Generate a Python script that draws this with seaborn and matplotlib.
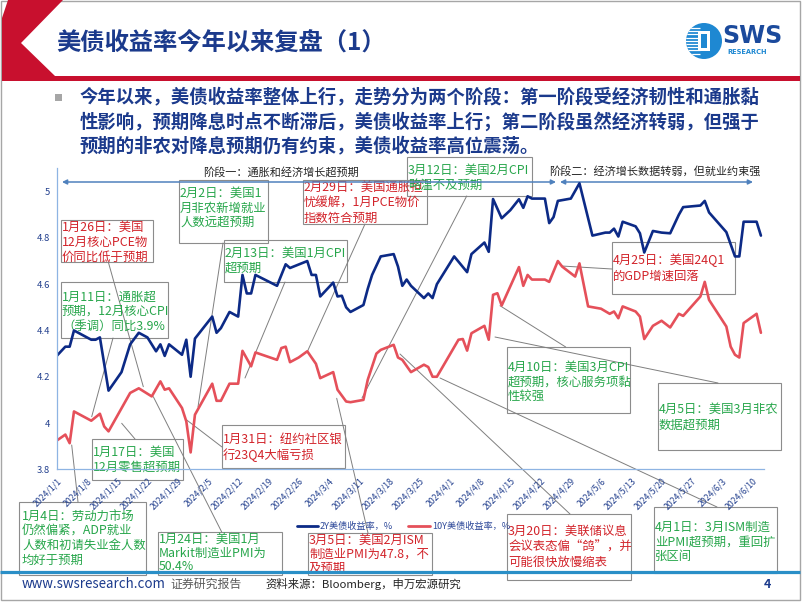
import numpy as np
import pandas as pd
import matplotlib
matplotlib.use("Agg")
import matplotlib.pyplot as plt
import seaborn as sns
from matplotlib.patches import Rectangle, Polygon, Circle

# ---------------- data ----------------
dates_2y = ["2024-01-01", "2024-01-03", "2024-01-04", "2024-01-05", "2024-01-08", "2024-01-09",
            "2024-01-10", "2024-01-11", "2024-01-13", "2024-01-16", "2024-01-18", "2024-01-20",
            "2024-01-22", "2024-01-24", "2024-01-25", "2024-01-26", "2024-01-27", "2024-01-30",
            "2024-01-31", "2024-02-01", "2024-02-02", "2024-02-06", "2024-02-07", "2024-02-08",
            "2024-02-10", "2024-02-12", "2024-02-13", "2024-02-14", "2024-02-15", "2024-02-16",
            "2024-02-21", "2024-02-23", "2024-02-24", "2024-02-28", "2024-02-29", "2024-03-01",
            "2024-03-02", "2024-03-05", "2024-03-06", "2024-03-07", "2024-03-08", "2024-03-09",
            "2024-03-12", "2024-03-13", "2024-03-14", "2024-03-16", "2024-03-19", "2024-03-20",
            "2024-03-21", "2024-03-22", "2024-03-23", "2024-03-26", "2024-03-27", "2024-03-28",
            "2024-03-29", "2024-04-02", "2024-04-05", "2024-04-06", "2024-04-09", "2024-04-10",
            "2024-04-11", "2024-04-13", "2024-04-15", "2024-04-17", "2024-04-18", "2024-04-19",
            "2024-04-20", "2024-04-23", "2024-04-24", "2024-04-25", "2024-04-26", "2024-04-29",
            "2024-05-01", "2024-05-04", "2024-05-07", "2024-05-08", "2024-05-09", "2024-05-10",
            "2024-05-11", "2024-05-14", "2024-05-15", "2024-05-16", "2024-05-18", "2024-05-20",
            "2024-05-22", "2024-05-24", "2024-05-25", "2024-05-29", "2024-05-30", "2024-05-31",
            "2024-06-04", "2024-06-06", "2024-06-07", "2024-06-08", "2024-06-11", "2024-06-12"]
yield_2y = [4.29, 4.33, 4.33, 4.40, 4.37, 4.36,
            4.36, 4.37, 4.14, 4.22, 4.34, 4.39,
            4.37, 4.31, 4.34, 4.29, 4.34, 4.295,
            4.36, 4.20, 4.365, 4.46, 4.39, 4.41,
            4.48, 4.46, 4.64, 4.56, 4.56, 4.64,
            4.593, 4.686, 4.67, 4.70, 4.64, 4.64,
            4.547, 4.607, 4.547, 4.55, 4.50, 4.48,
            4.51, 4.58, 4.64, 4.72, 4.73, 4.676,
            4.593, 4.62, 4.593, 4.54, 4.56, 4.54,
            4.60, 4.72, 4.652, 4.73, 4.78, 4.74,
            4.968, 4.885, 4.92, 4.967, 4.93, 4.98,
            4.97, 4.97, 4.864, 4.89, 4.96, 4.97,
            5.036, 4.81, 4.823, 4.823, 4.84, 4.806,
            4.87, 4.85, 4.82, 4.737, 4.83, 4.823,
            4.82, 4.90, 4.933, 4.94, 4.96, 4.91,
            4.825, 4.72, 4.72, 4.87, 4.87, 4.81]

dates_10y = ["2024-01-01", "2024-01-03", "2024-01-04", "2024-01-05", "2024-01-09", "2024-01-11",
             "2024-01-12", "2024-01-13", "2024-01-18", "2024-01-20", "2024-01-23", "2024-01-25",
             "2024-01-26", "2024-01-27", "2024-01-30", "2024-01-31", "2024-02-01", "2024-02-02",
             "2024-02-06", "2024-02-07", "2024-02-08", "2024-02-10", "2024-02-12", "2024-02-13",
             "2024-02-15", "2024-02-16", "2024-02-21", "2024-02-22", "2024-02-23", "2024-02-24",
             "2024-02-26", "2024-02-28", "2024-03-01", "2024-03-02", "2024-03-05", "2024-03-06",
             "2024-03-08", "2024-03-09", "2024-03-12", "2024-03-13", "2024-03-15", "2024-03-16",
             "2024-03-19", "2024-03-20", "2024-03-21", "2024-03-23", "2024-03-26", "2024-03-27",
             "2024-03-28", "2024-03-29", "2024-04-03", "2024-04-04", "2024-04-05", "2024-04-06",
             "2024-04-09", "2024-04-10", "2024-04-11", "2024-04-12", "2024-04-13", "2024-04-17",
             "2024-04-18", "2024-04-19", "2024-04-20", "2024-04-23", "2024-04-24", "2024-04-26",
             "2024-04-27", "2024-04-30", "2024-05-01", "2024-05-02", "2024-05-03", "2024-05-06",
             "2024-05-08", "2024-05-09", "2024-05-10", "2024-05-11", "2024-05-14", "2024-05-15",
             "2024-05-16", "2024-05-18", "2024-05-20", "2024-05-22", "2024-05-24", "2024-05-25",
             "2024-05-29", "2024-05-30", "2024-05-31", "2024-06-04", "2024-06-05", "2024-06-06",
             "2024-06-07", "2024-06-08", "2024-06-11", "2024-06-12"]
yield_10y = [3.924, 3.95, 3.913, 4.05, 4.01, 4.04,
             3.985, 3.964, 4.13, 4.15, 4.115, 4.18,
             4.144, 4.15, 4.065, 4.007, 3.873, 4.036,
             4.17, 4.096, 4.096, 4.17, 4.17, 4.312,
             4.245, 4.305, 4.273, 4.324, 4.33, 4.263,
             4.283, 4.31, 4.256, 4.194, 4.22, 4.144,
             4.093, 4.09, 4.10, 4.187, 4.30, 4.316,
             4.338, 4.283, 4.273, 4.22, 4.252, 4.242,
             4.20, 4.20, 4.36, 4.363, 4.313, 4.388,
             4.42, 4.36, 4.554, 4.561, 4.508, 4.674,
             4.593, 4.64, 4.62, 4.62, 4.61, 4.70,
             4.676, 4.633, 4.69, 4.597, 4.504, 4.494,
             4.472, 4.482, 4.453, 4.504, 4.482, 4.46,
             4.363, 4.42, 4.442, 4.413, 4.472, 4.463,
             4.547, 4.61, 4.532, 4.417, 4.33, 4.295,
             4.283, 4.432, 4.472, 4.39]

series_names = ["2Y美债收益率，%", "10Y美债收益率，%"]
tick_labels = ["2024/1/1", "2024/1/8", "2024/1/15", "2024/1/22", "2024/1/29", "2024/2/5",
               "2024/2/12", "2024/2/19", "2024/2/26", "2024/3/4", "2024/3/11", "2024/3/18",
               "2024/3/25", "2024/4/1", "2024/4/8", "2024/4/15", "2024/4/22", "2024/4/29",
               "2024/5/6", "2024/5/13", "2024/5/20", "2024/5/27", "2024/6/3", "2024/6/10"]
y_ticks = [3.8, 4.0, 4.2, 4.4, 4.6, 4.8, 5.0]
y_tick_labels = ["3.8", "4", "4.2", "4.4", "4.6", "4.8", "5"]

title_text = "美债收益率今年以来复盘（1）"
bullet_lines = ["今年以来，美债收益率整体上行，走势分为两个阶段：第一阶段受经济韧性和通胀黏",
                "性影响，预期降息时点不断滞后，美债收益率上行；第二阶段虽然经济转弱，但强于",
                "预期的非农对降息预期仍有约束，美债收益率高位震荡。"]
phase_labels = ["阶段一：通胀和经济增长超预期", "阶段二：经济增长数据转弱，但就业约束强"]
note_texts = [
    ("1月26日：美国\n12月核心PCE物\n价同比低于预期", "red"),
    ("1月11日：通胀超\n预期，12月核心CPI\n（季调）同比3.9%", "green"),
    ("2月2日：美国1\n月非农新增就业\n人数远超预期", "green"),
    ("2月29日：美国通胀担\n忧缓解，1月PCE物价\n指数符合预期", "red"),
    ("3月12日：美国2月CPI\n略温不及预期", "green"),
    ("2月13日：美国1月CPI\n超预期", "green"),
    ("1月31日：纽约社区银\n行23Q4大幅亏损", "red"),
    ("1月17日：美国\n12月零售超预期", "green"),
    ("1月4日：劳动力市场\n仍然偏紧，ADP就业\n人数和初请失业金人数\n均好于预期", "green"),
    ("1月24日：美国1月\nMarkit制造业PMI为\n50.4%", "green"),
    ("3月5日：美国2月ISM\n制造业PMI为47.8，不\n及预期", "red"),
    ("3月20日：美联储议息\n会议表态偏“鸽”，并\n可能很快放慢缩表", "red"),
    ("4月1日：3月ISM制造\n业PMI超预期，重回扩\n张区间", "green"),
    ("4月10日：美国3月CPI\n超预期，核心服务项黏\n性较强", "green"),
    ("4月5日：美国3月非农\n数据超预期", "green"),
    ("4月25日：美国24Q1\n的GDP增速回落", "red"),
]
footer_site = "www.swsresearch.com"
footer_kind = "证券研究报告"
footer_source = "资料来源：Bloomberg，申万宏源研究"
page_no = "4"

# ---------------- layout (pixels, origin top-left) ----------------
W, H = 802, 602
note_layout = [  # box (l, t, r, b), text x, first line y, line step, leader (x0,y0,x1,y1)
    ((61, 220, 153, 262), 62, 227, 15, (108.3, 262, 143.3, 386.7)),
    ((61, 282, 168, 338), 62, 297, 14.5, (113, 338, 91.7, 416.7)),
    ((179, 180, 268, 243), 180, 193.5, 14.5, (223, 243, 198, 407)),
    ((303, 180, 427, 224), 304, 187, 15.5, (365, 224, 307.3, 351.7)),
    ((407, 157, 532, 196), 408, 170.5, 14.5, (466.7, 196, 362, 398)),
    ((224, 240, 347, 282), 225, 253.5, 15, (285, 282, 245, 378)),
    ((222, 425, 345, 468), 223, 439.5, 15.5, (222, 447, 186.7, 420)),
    ((92, 439, 183, 480), 93, 452, 15, (135, 439, 121.7, 423.3)),
    ((19, 502, 146, 575), 22, 516.5, 14.5, (78, 502, 71.7, 445)),
    ((158, 532, 282, 575), 159, 539, 14, (221.7, 532, 153.3, 396.7)),
    ((308, 533, 432, 575), 309, 540, 14.2, (368, 533, 336.7, 398.3)),
    ((507, 514, 631, 580), 508, 531.7, 15.5, (570, 514, 400, 354)),
    ((654, 507, 777, 573), 655, 527.3, 14.4, (717, 507, 440, 378)),
    ((507, 347, 630, 413), 507.5, 367.3, 14.4, (565.7, 347, 500, 305.7)),
    ((658, 383, 781, 450), 658.5, 409, 16, (718, 383, 495, 337)),
    ((612, 242, 735, 294), 613, 260, 16, (612, 269, 561.7, 266)),
]
colors = {"red": "#D2232A", "green": "#27A64B"}
navy_text = "#1B3A8C"

sns.set_theme(style="white")
plt.rcParams["font.family"] = ["Noto Sans CJK SC", "DejaVu Sans"]
plt.rcParams["axes.unicode_minus"] = False

fig = plt.figure(figsize=(W / 100, H / 100), dpi=100)
fig.patch.set_facecolor("white")

ov = fig.add_axes([0, 0, 1, 1], zorder=0)
ov.set_xlim(0, W)
ov.set_ylim(H, 0)
ov.axis("off")

# chart axes
ax_l, ax_r, ax_t, ax_b = 56.7, 763.5, 168.5, 469.3
ax = fig.add_axes([ax_l / W, (H - ax_b) / H, (ax_r - ax_l) / W, (ax_b - ax_t) / H], zorder=2)
ax.patch.set_alpha(0)

df = pd.concat([
    pd.DataFrame({"date": pd.to_datetime(dates_2y), "value": yield_2y, "series": series_names[0]}),
    pd.DataFrame({"date": pd.to_datetime(dates_10y), "value": yield_10y, "series": series_names[1]}),
])
line_colors = {series_names[0]: "#0C2A86", series_names[1]: "#E5505A"}
sns.lineplot(data=df, x="date", y="value", hue="series", palette=line_colors,
             estimator=None, linewidth=1.9, legend=False, ax=ax)

start = pd.Timestamp("2024-01-01")
ax.set_xlim(start, start + pd.Timedelta(days=163.6))
ax.set_ylim(3.8, 5.1)
ax.set_yticks(y_ticks)
ax.set_yticklabels(y_tick_labels, fontsize=6.8, color="#23408E")
tick_pos = pd.to_datetime(tick_labels, format="%Y/%m/%d")
ax.set_xticks(tick_pos)
ax.set_xticklabels(tick_labels, rotation=45, ha="right", rotation_mode="anchor",
                   fontsize=6.3, color="#23408E")
ax.set_xlabel("")
ax.set_ylabel("")
for s in ["top", "right"]:
    ax.spines[s].set_visible(False)
for s in ["left", "bottom"]:
    ax.spines[s].set_color("#8EB4E3")
    ax.spines[s].set_linewidth(0.9)
ax.tick_params(axis="both", direction="out", length=3, width=0.8, color="#8EB4E3", pad=2)
ax.grid(False)

# ---------------- slide decorations ----------------
ov.add_patch(Rectangle((1, 1), 799, 599, fill=False, edgecolor="#A6A6A6", lw=1.0))
ov.add_patch(Polygon([(2, 18), (8, 0), (63, 0), (21, 43), (55, 76), (800, 76), (800, 81), (2, 81)],
                     closed=True, facecolor="#C8102E", edgecolor="none"))
ov.text(56, 43, title_text, fontsize=17.5, fontweight="bold", color=navy_text, va="center", ha="left")

# logo
logo = Circle((704, 41), 18, facecolor="#1E88D2", edgecolor="none")
ov.add_patch(logo)
for yy in np.arange(28, 56, 3.2):
    ln, = ov.plot([684, 700], [yy, yy], color="white", lw=0.9, solid_capstyle="butt")
    ln.set_clip_path(logo)
ov.add_patch(Rectangle((698, 31), 12, 20, facecolor="white", edgecolor="none"))
ov.add_patch(Rectangle((701, 34), 6, 14, facecolor="#1E88D2", edgecolor="none"))
ov.text(722, 36, "SWS", fontsize=17, fontweight="bold", color="#1B4A9C", va="center", ha="left",
        family=["DejaVu Sans"])
ov.text(727, 51.5, "RESEARCH", fontsize=4.8, fontweight="bold", color="#1E88D2", va="center", ha="left",
        family=["DejaVu Sans"])

# bullet
ov.add_patch(Rectangle((54.5, 93.5), 7, 7, facecolor="#A6A6A6", edgecolor="none"))
for i, line in enumerate(bullet_lines):
    ov.text(80, 97 + i * 24.5, line, fontsize=13.2, fontweight="bold", color=navy_text,
            va="center", ha="left")

# annotation boxes and leaders
for (txt, ckey), (box, tx, y0, step, lead) in zip(note_texts, note_layout):
    l, t, r, b = box
    ov.add_patch(Rectangle((l, t), r - l, b - t, fill=False, edgecolor="#8C8C8C", lw=0.8))
    for i, line in enumerate(txt.split("\n")):
        ov.text(tx, y0 + i * step, line, fontsize=8.9, color=colors[ckey], va="center", ha="left")
    ov.plot([lead[0], lead[2]], [lead[1], lead[3]], color="#7F7F7F", lw=0.7)

# phase arrows and labels
ov.text(281, 172, phase_labels[0], fontsize=8.0, color="#262626", va="center", ha="center")
ov.text(655, 171, phase_labels[1], fontsize=8.0, color="#262626", va="center", ha="center")
arrow_kw = dict(arrowstyle="<|-|>", color="#4F81BD", lw=1.1, mutation_scale=7, shrinkA=0, shrinkB=0)
ov.annotate("", xy=(62, 182), xytext=(556, 182), arrowprops=arrow_kw)
ov.annotate("", xy=(560, 182), xytext=(753, 182), arrowprops=arrow_kw)

# legend
ov.plot([297, 318], [526, 526], color=line_colors[series_names[0]], lw=2.0)
ov.text(320, 526, series_names[0], fontsize=6.6, color="#2F4A9A", va="center", ha="left")
ov.plot([408, 430], [526, 526], color=line_colors[series_names[1]], lw=2.0)
ov.text(432, 526, series_names[1], fontsize=6.6, color="#2F4A9A", va="center", ha="left")

# footer
ov.plot([0, 800], [572, 572], color="#2A8FC7", lw=2.3, solid_capstyle="butt", zorder=5)
ov.text(22, 584, footer_site, fontsize=9.6, color=navy_text, va="center", ha="left")
ov.text(170, 584, footer_kind, fontsize=8.6, color="#595959", va="center", ha="left")
ov.text(265, 584, footer_source, fontsize=8.2, color="#262626", va="center", ha="left")
ov.text(764, 584, page_no, fontsize=9, fontweight="bold", color=navy_text, va="center", ha="left")

fig.savefig("out.png", dpi=100, facecolor="white")
